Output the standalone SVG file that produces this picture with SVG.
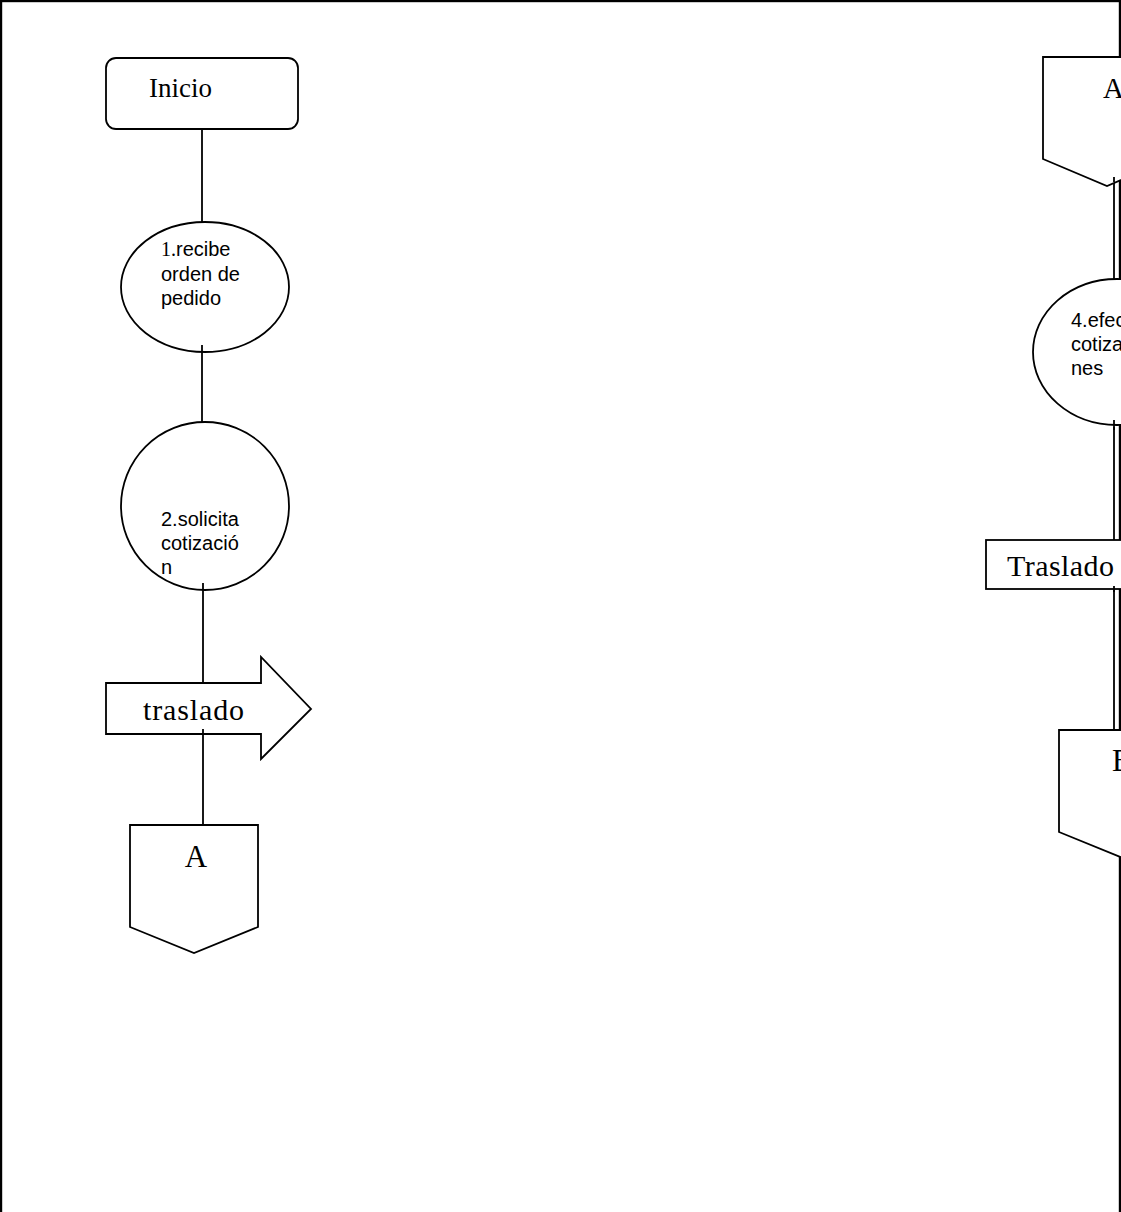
<svg xmlns="http://www.w3.org/2000/svg" width="1121" height="1212" viewBox="0 0 1121 1212">
  <style>
    .shape { fill: #ffffff; stroke: #000000; stroke-width: 1.8; }
    .link { fill: none; stroke: #000000; stroke-width: 1.8; }
    .serif { font-family: "Liberation Serif", "Times New Roman", serif; fill: #000000; }
    .sans { font-family: "Liberation Sans", Arial, sans-serif; font-size: 20px; fill: #000000; }
  </style>
  <rect x="0" y="0" width="1121" height="1212" fill="#ffffff"/>
  <!-- page frame -->
  <rect x="1" y="1" width="1119" height="1300" fill="none" stroke="#000000" stroke-width="2.4"/>

  <!-- left column connectors -->
  <g id="connectors-left">
    <line class="link" x1="202" y1="129" x2="202" y2="232"/>
  </g>

  <g id="inicio">
    <rect class="shape" x="106" y="58" width="192" height="71" rx="10"/>
    <text class="serif" x="149" y="97" font-size="27">Inicio</text>
  </g>

  <g id="paso1">
    <ellipse class="shape" cx="205" cy="287" rx="84" ry="65"/>
    <text class="sans" x="161" y="256"><tspan font-family="Liberation Serif, serif">1.</tspan>recibe</text>
    <text class="sans" x="161" y="281">orden de</text>
    <text class="sans" x="161" y="305">pedido</text>
  </g>

  <g id="paso2">
    <circle class="shape" cx="205" cy="506" r="84"/>
    <text class="sans" x="161" y="526">2.solicita</text>
    <text class="sans" x="161" y="550">cotizació</text>
    <text class="sans" x="161" y="574">n</text>
  </g>

  <g id="traslado-izq">
    <polygon class="shape" points="106,683 261,683 261,657 311,709 261,759 261,734 106,734"/>
    <text class="serif" x="143" y="720" font-size="30" textLength="101" lengthAdjust="spacing">traslado</text>
  </g>

  <g id="conector-a-izq">
    <polygon class="shape" points="130,825 258,825 258,927 194,953 130,927"/>
    <text class="serif" x="196" y="867" font-size="31" text-anchor="middle">A</text>
  </g>

  <!-- links drawn over the shapes they leave from -->
  <g id="connectors">
    <line class="link" x1="202" y1="345" x2="202" y2="423"/>
    <line class="link" x1="203" y1="583" x2="203" y2="683"/>
    <line class="link" x1="203" y1="729" x2="203" y2="825"/>
    <line class="link" x1="1114" y1="177" x2="1114" y2="280"/>
    <line class="link" x1="1114" y1="427" x2="1114" y2="540"/>
    <line class="link" x1="1114" y1="586" x2="1114" y2="730"/>
  </g>

  <!-- right column -->
  <g id="conector-a-der">
    <polygon class="shape" points="1043,57 1171,57 1171,159 1107,186 1043,159"/>
    <text class="serif" x="1103" y="98" font-size="29">A</text>
  </g>

  <g id="paso4">
    <ellipse class="shape" cx="1117" cy="352" rx="84" ry="73"/>
    <text class="sans" x="1071" y="327">4.efec</text>
    <text class="sans" x="1071" y="351">cotiza</text>
    <text class="sans" x="1071" y="375">nes</text>
  </g>

  <g id="traslado-der">
    <rect class="shape" x="986" y="540" width="200" height="49"/>
    <text class="serif" x="1007" y="576" font-size="30" textLength="107" lengthAdjust="spacing">Traslado</text>
  </g>

  <g id="conector-b">
    <polygon class="shape" points="1059,730 1187,730 1187,832 1123,858 1059,832"/>
    <text class="serif" x="1112" y="771" font-size="31">B</text>
  </g>

  <!-- right-hand link stubs over the shapes -->
  <g id="connectors-right">
    <line class="link" x1="1114" y1="177" x2="1114" y2="182"/>
    <line class="link" x1="1114" y1="420" x2="1114" y2="430"/>
    <line class="link" x1="1114" y1="586" x2="1114" y2="592"/>
  </g>
  <line x1="1120" y1="0" x2="1120" y2="57" stroke="#000000" stroke-width="1.5"/>
  <line x1="1120" y1="858" x2="1120" y2="1212" stroke="#000000" stroke-width="1.5"/>
</svg>
